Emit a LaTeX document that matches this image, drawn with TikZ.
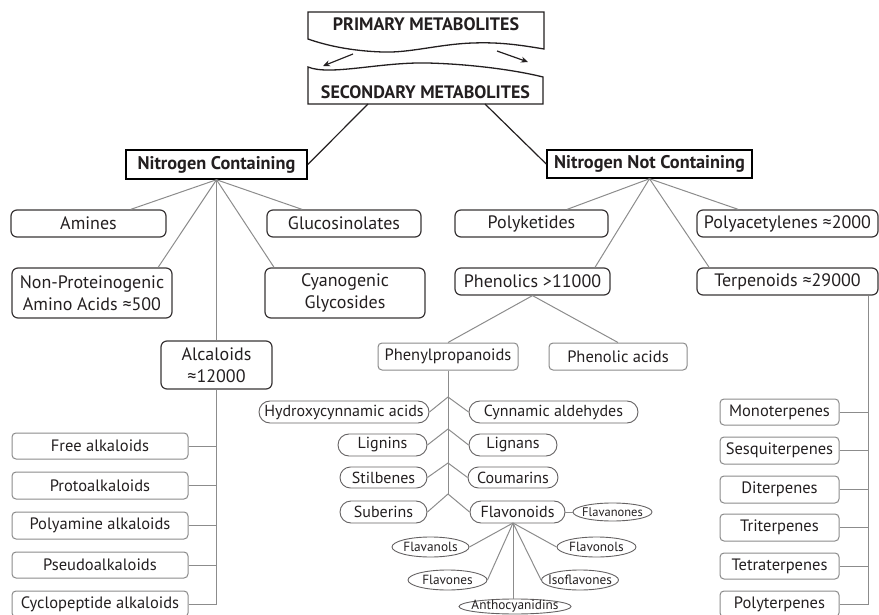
\documentclass[tikz,border=0pt]{standalone}
\usepackage{fontspec}
\setmainfont{PT Sans}
\usetikzlibrary{shapes.misc,shapes.geometric,arrows.meta,calc}
\definecolor{ink}{HTML}{231F20}
\definecolor{linegray}{HTML}{8C8C8C}
\definecolor{sborder}{HTML}{8A8A8A}
\begin{document}
\begin{tikzpicture}[x=1pt,y=-1pt,
  every node/.style={text=ink, inner sep=0pt, align=center},
  nbox/.style={draw=black, line width=1.5pt, font=\fontsize{18.3}{22}\selectfont\bfseries},
  rbox/.style={draw=ink!90, line width=1.2pt, rounded corners=6pt, font=\fontsize{18}{22.5}\selectfont},
  gbox/.style={draw=sborder, line width=1pt, rounded corners=4pt, font=\fontsize{16.5}{19}\selectfont},
  tbox/.style={gbox, font=\fontsize{16.5}{19}\selectfont},
  pill/.style={rounded rectangle, draw=ink!70, line width=0.9pt, font=\fontsize{16}{18}\selectfont},
  ell/.style={ellipse, draw=ink!70, line width=0.9pt, inner xsep=-9pt, inner ysep=-1pt, font=\fontsize{13.3}{15}\selectfont},
  conn/.style={draw=linegray, line width=1pt},
  bconn/.style={draw=ink, line width=1.2pt},
  banner/.style={draw=ink, line width=1.3pt, fill=white},
  btext/.style={font=\fontsize{18}{20}\selectfont\bfseries},
]
\useasboundingbox (0,0) rectangle (879,615);

% banners
\draw[banner] (308,12) -- (544,12) -- (544,49)
  .. controls (520,45) and (500,42) .. (473,43)
  .. controls (440,44) and (410,53) .. (383,52)
  .. controls (350,51) and (325,45) .. (308,39) -- cycle;
\draw[banner] (308,67) .. controls (330,76) and (380,62) .. (427,63)
  .. controls (470,64) and (515,70) .. (543,77) -- (543,104) -- (308,104) -- cycle;
\node[btext] (prim) at (426,24) {PRIMARY METABOLITES};
\node[btext] (sec) at (425.5,92) {SECONDARY METABOLITES};
\coordinate (a1s) at (353,54); \coordinate (a1e) at (323,66);
\coordinate (a2s) at (497,51); \coordinate (a2e) at (528,62);
\draw[bconn,-{Stealth[length=7pt,width=6pt]}] (a1s) -- (a1e);
\draw[bconn,-{Stealth[length=7pt,width=6pt]}] (a2s) -- (a2e);
\coordinate (s1) at (368,104); \coordinate (s2) at (485,104);

% level 1
\node[nbox, minimum width=181, minimum height=29] (nc) at (216.5,164.5) {Nitrogen Containing};
\node[nbox, minimum width=205, minimum height=28] (nnc) at (649.5,164) {Nitrogen Not Containing};
\draw[bconn] (s1) -- (nc.east);
\draw[bconn] (s2) -- (nnc.west);

% nitrogen containing
\node[rbox, minimum width=155, minimum height=27] (amines) at (88.5,223.5) {Amines};
\node[rbox, minimum width=154, minimum height=27] (gluc) at (344,223.5) {Glucosinolates};
\node[rbox, minimum width=160, minimum height=50] (nonp) at (92,293) {Non-Proteinogenic\\Amino Acids ≈500};
\node[rbox, minimum width=160, minimum height=50] (cyan) at (345,293) {Cyanogenic\\Glycosides};
\node[rbox, minimum width=111, minimum height=48] (alc) at (216.5,365) {Alcaloids\\≈12000};
\draw[conn] (nc.south) -- ($(amines.north west)!0.77!(amines.north east)$);
\draw[conn] (nc.south) -- ($(gluc.north west)!0.23!(gluc.north east)$);
\draw[conn] (nc.south) -- ($(nonp.north west)!0.91!(nonp.north east)$);
\draw[conn] (nc.south) -- ($(cyan.north west)!0.06!(cyan.north east)$);
\draw[conn] (nc.south) -- (alc.north);

\node[gbox, minimum width=176, minimum height=26] (free) at (100,446) {Free alkaloids};
\node[gbox, minimum width=176, minimum height=27] (proto) at (100,485.5) {Protoalkaloids};
\node[gbox, minimum width=176, minimum height=27] (polya) at (100,525.5) {Polyamine alkaloids};
\node[gbox, minimum width=176, minimum height=26] (pseudo) at (100,565) {Pseudoalkaloids};
\node[gbox, minimum width=176, minimum height=26] (cyclo) at (100,604) {Cyclopeptide alkaloids};
\draw[conn] (alc.south) -- (alc.south |- cyclo.east);
\foreach \n in {free,proto,polya,pseudo,cyclo}
  \draw[conn] (\n.east) -- (\n.east -| alc.south);

% nitrogen not containing
\node[rbox, minimum width=153, minimum height=27] (polyk) at (531.5,223.5) {Polyketides};
\node[rbox, minimum width=181, minimum height=27] (polyac) at (787.5,223.5) {Polyacetylenes ≈2000};
\node[rbox, minimum width=155, minimum height=27] (phen) at (532.5,281.5) {Phenolics >11000};
\node[rbox, minimum width=181, minimum height=27] (terp) at (787.5,281.5) {Terpenoids ≈29000};
\draw[conn] (nnc.south) -- ($(polyk.north west)!0.73!(polyk.north east)$);
\draw[conn] (nnc.south) -- ($(polyac.north west)!0.23!(polyac.north east)$);
\draw[conn] (nnc.south) -- ($(phen.north west)!0.90!(phen.north east)$);
\draw[conn] (nnc.south) -- ($(terp.north west)!0.07!(terp.north east)$);

% terpenes
\node[tbox, minimum width=119, minimum height=26] (mono) at (779.5,412) {Monoterpenes};
\node[tbox, minimum width=119, minimum height=27] (sesq) at (779.5,450.5) {Sesquiterpenes};
\node[tbox, minimum width=119, minimum height=27] (dit) at (779.5,489.5) {Diterpenes};
\node[tbox, minimum width=119, minimum height=27] (trit) at (779.5,527.5) {Triterpenes};
\node[tbox, minimum width=119, minimum height=26] (tetra) at (779.5,566) {Tetraterpenes};
\node[tbox, minimum width=119, minimum height=26] (polyt) at (779.5,604) {Polyterpenes};
\coordinate (tv) at ($(terp.south east)+(-10,0)$);
\draw[conn] (tv) -- (tv |- polyt.east);
\foreach \n in {mono,sesq,dit,trit,tetra,polyt}
  \draw[conn] (\n.east) -- (\n.east -| tv);

% phenolics
\node[gbox, minimum width=140, minimum height=27] (phpr) at (448,356.5) {Phenylpropanoids};
\node[gbox, minimum width=138, minimum height=27] (phac) at (618,356.5) {Phenolic acids};
\draw[conn] (phen.south) -- (phpr.north);
\draw[conn] (phen.south) -- (phac.north);

\node[pill, minimum width=170, minimum height=22] (hydro) at (344,412) {Hydroxycynnamic acids};
\node[pill, minimum width=169, minimum height=22] (cynald) at (553.5,412) {Cynnamic aldehydes};
\node[pill, minimum width=89, minimum height=22] (lignins) at (382.5,445) {Lignins};
\node[pill, minimum width=88, minimum height=22] (lignans) at (513,445) {Lignans};
\node[pill, minimum width=87, minimum height=21] (stil) at (383.5,477.5) {Stilbenes};
\node[pill, minimum width=90, minimum height=21] (coum) at (513,477.5) {Coumarins};
\node[pill, minimum width=87, minimum height=22] (suber) at (383.5,512) {Suberins};
\node[pill, minimum width=95, minimum height=22] (flav) at (517.5,512) {Flavonoids};

\coordinate (j1) at (448,397);
\coordinate (j2) at (448,429);
\coordinate (j3) at (448,463);
\coordinate (j4) at (448,494);
\draw[conn] (phpr.south) -- (j4);
\draw[conn] (j1) -- (hydro.east);  \draw[conn] (j1) -- (cynald.west);
\draw[conn] (j2) -- (lignins.east); \draw[conn] (j2) -- (lignans.west);
\draw[conn] (j3) -- (stil.east);    \draw[conn] (j3) -- (coum.west);
\draw[conn] (j4) -- (suber.east);   \draw[conn] (j4) -- (flav.west);

% flavonoids
\node[ell, font=\fontsize{12.5}{14}\selectfont, minimum width=79, minimum height=18] (flavan) at (612.5,512) {Flavanones};
\node[ell, minimum width=77, minimum height=20] (flavanols) at (430.5,547) {Flavanols};
\node[ell, minimum width=79, minimum height=20] (flavonols) at (596.5,547) {Flavonols};
\node[ell, minimum width=79, minimum height=20] (flavones) at (447.5,580) {Flavones};
\node[ell, minimum width=77, minimum height=20] (isofl) at (580,580) {Isoflavones};
\node[ell, minimum width=112, minimum height=15] (antho) at (515,606.5) {Anthocyanidins};
\coordinate (fj) at (513,523);
\draw[conn] (flav.east) -- (flavan.west);
\draw[conn] (fj) -- (flavanols.east);
\draw[conn] (fj) -- (flavonols.west);
\draw[conn] (fj) -- (flavones.east);
\draw[conn] (fj) -- (isofl.west);
\draw[conn] (fj) -- (fj |- antho.north);
\end{tikzpicture}
\end{document}
